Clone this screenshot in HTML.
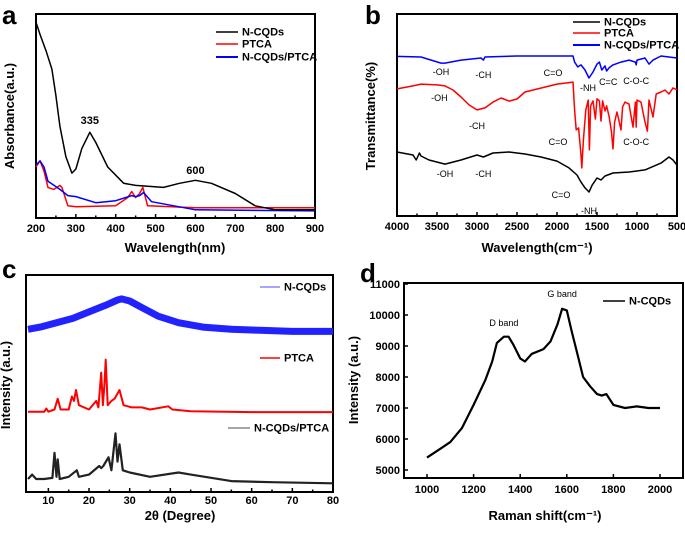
<!DOCTYPE html>
<html><head><meta charset="utf-8"><style>
body{margin:0;background:#fff;width:685px;height:532px;overflow:hidden}
svg{font-family:"Liberation Sans",Arial,sans-serif}
.t{font-size:11px;font-weight:bold}
.lab{font-size:13px;font-weight:bold}
.an{font-size:9px}
</style></head><body>
<svg id="fig" width="685" height="532">
<g id="pa"></g>
<g id="pb"></g>
<g id="pc"></g>
<g id="pd"></g>
</svg>
<script>
// Panel a data (wavelength nm, absorbance a.u.)
const aX_cqd=[200,210,225,240,250,260,275,290,300,315,335,350,380,420,450,520,560,600,640,700,750,800,900];
const aY_cqd=[96,90,82,73,60,45,30,22,24,34,42,37,25,17,16,15,17,18.5,17,12,6,4,4];
const aX_ptca=[200,210,220,230,245,260,265,280,300,400,430,440,450,460,468,480,600,900];
const aY_ptca=[25,28,23,15,14,16,15,6,5.5,6,10,13,10,12,15,6,5,5];
const aX_mix=[200,210,220,230,260,280,300,350,400,440,450,460,470,490,600,900];
const aY_mix=[26,28,25,18,14,11,10.5,7.5,8.5,11,10.5,11,12.5,8,4,3.5];
const aTicks=[200,300,400,500,600,700,800,900];
// Panel b data (wavenumber cm-1, transmittance %)
const bX_blue=[4000,3700,3450,3400,3200,2950,2920,2900,2500,1800,1780,1740,1700,1650,1600,1550,1500,1470,1440,1400,1380,1350,1300,1200,1100,1020,1010,1000,900,850,800,700,600,500];
const bY_blue=[79,78.7,75.7,75.7,77.2,78.2,77.2,78.7,79.2,79.2,76.2,73.8,74.8,72.3,68.3,71.3,75.2,76.2,72.3,74.3,71.8,73.3,74.8,76.2,77.2,76.2,74.8,77.2,78.2,75.2,77.2,79.2,78.7,78.2];
const bX_red=[4000,3800,3700,3500,3400,3300,3200,3100,3000,2900,2800,2700,2600,2500,2400,2000,1800,1780,1760,1730,1700,1690,1670,1640,1610,1595,1580,1550,1520,1500,1470,1450,1430,1400,1380,1350,1320,1300,1280,1250,1200,1180,1150,1100,1050,1020,1010,1000,950,900,870,850,800,760,700,650,600,550,500];
const bY_red=[62.9,64.4,65.3,64.9,64.4,62.4,58.9,55,52.5,53.5,56.4,58.4,56.9,57.9,61.4,65.3,66.3,52.5,42.6,43.6,30.2,23.8,37.6,52.5,57.4,32.7,54.5,57,48,58,57,47,57,52,54.5,49.5,42,33.2,46.5,51.5,42.6,54,56.4,55.4,44,56.4,44,57.4,56.4,46.5,42,57.4,49,60.4,61.4,62.4,60.4,63.4,62.4];
const bX_black=[4000,3800,3760,3720,3700,3600,3400,3200,3000,2920,2800,2600,2400,2200,2000,1850,1750,1700,1650,1600,1560,1500,1450,1400,1300,1100,900,700,600,550,500];
const bY_black=[31.7,30.2,27.7,31.2,29.7,27.7,25.7,27.7,30.2,29.2,31.2,31.7,30.7,29.2,27.2,23.8,20.3,16.8,13.9,11.9,15.3,18.8,17.8,19.8,21.3,21.8,22.8,26.2,29.2,27.7,25.2];
const bTicks=[4000,3500,3000,2500,2000,1500,1000,500];
// Panel c data (2theta degree, intensity a.u.)
const cX_blue=[5,8,12,16,20,24,27,28,30,33,37,42,48,55,62,70,80];
const cY_blue=[75,76,78,80,83,86,88.5,89,88,85,81,78,76,75,74.5,74,74];
const cX_red=[5,9,9.5,10,11.5,12.3,13,15,15.8,16.3,16.8,17.5,20,21.8,22.3,23,23.4,23.8,24.1,24.6,25.5,26.3,27.5,28.5,30.5,33,35,39.5,40.5,45,60,80];
const cY_red=[37,37,38.5,37,38,43,38,38,44,42,47,40,38,42,39,55,40,50,61,40,42,43,47,40,39,39,38,39.5,38,37.2,36.8,36.8];
const cX_black=[5,6,7,9,11,11.5,12,12.3,12.8,15,17,17.5,20,22.5,23,23.5,24.8,25.5,26.5,27,27.5,28.3,30,35,42,45,55,65,80];
const cY_black=[6,8,6,6,6.5,18,7,15,6,7,10,7,8,12,11,12,16,10,27,14,22,10,9,7,9,8,5,4.5,4];
const cTicks=[10,20,30,40,50,60,70,80];
// Panel d data (Raman shift cm-1, intensity)
const dX=[1000,1030,1060,1100,1150,1200,1250,1280,1300,1330,1350,1370,1400,1420,1450,1500,1530,1560,1580,1600,1620,1650,1670,1700,1730,1750,1770,1800,1850,1900,1950,2000];
const dY=[5400,5550,5700,5900,6350,7100,7900,8500,9100,9300,9300,9050,8600,8500,8750,8900,9150,9700,10200,10150,9500,8600,8000,7700,7450,7400,7450,7100,7000,7050,7000,7000];
const dXTicks=[1000,1200,1400,1600,1800,2000];
const dYTicks=[5000,6000,7000,8000,9000,10000,11000];

const NS='http://www.w3.org/2000/svg';
function mk(p,tag,at,txt){const e=document.createElementNS(NS,tag);for(const k in at)e.setAttribute(k,at[k]);if(txt!==undefined)e.textContent=txt;p.appendChild(e);return e;}
function frame(g,l,t,r,b){const e=mk(g,'rect',{x:l,y:t,width:r-l,height:b-t,fill:'none',stroke:'#000','stroke-width':2});

}
function line(g,xs,ys,sx,sy,col,w,name){const pts=xs.map((x,i)=>sx(x).toFixed(1)+','+sy(ys[i]).toFixed(1)).join(' ');
const e=mk(g,'polyline',{points:pts,fill:'none',stroke:col,'stroke-width':w,'stroke-linejoin':'round'});

}
function txt(g,x,y,s,cls,anchor,name){const e=mk(g,'text',{x:x,y:y,class:cls,'text-anchor':anchor||'middle'},s);

return e;}
function legend(g,x1,x2,y,col,label,w){const l=mk(g,'line',{x1:x1,y1:y,x2:x2,y2:y,stroke:col,'stroke-width':w||1.5});


txt(g,x2+4,y+3.5,label,'t','start','legend-label');}
function panelLetter(g,x,y,s){const e=mk(g,'text',{x:x,y:y,'font-size':26,'font-weight':'bold'},s);

}
function ylab(g,x,y,s){const e=mk(g,'text',{x:0,y:0,class:'lab','text-anchor':'middle',transform:`translate(${x},${y}) rotate(-90)`},s);

}
function xtick(g,x,b,len){const e=mk(g,'line',{x1:x,y1:b,x2:x,y2:b-len,stroke:'#000','stroke-width':1.5});

}

// ---- Panel a ----
(function(){const g=document.getElementById('pa');const L=36,T=14,R=315,B=218;
const sx=v=>L+(v-200)/700*(R-L), sy=v=>B-v/100*(B-T);
panelLetter(g,2,24,'a');frame(g,L,T,R,B);
aTicks.forEach(v=>{xtick(g,sx(v),B,4);txt(g,sx(v),232,v,'t','middle','x-tick-label');});
for(let v=250;v<900;v+=100)xtick(g,sx(v),B,2.5);
line(g,aX_ptca,aY_ptca,sx,sy,'#f00',1.5,'series-ptca');
line(g,aX_mix,aY_mix,sx,sy,'#00f',1.5,'series-ncqds-ptca');
line(g,aX_cqd,aY_cqd,sx,sy,'#000',1.5,'series-ncqds');
txt(g,sx(335),124,'335','t','middle','peak-label-335');txt(g,sx(600),174,'600','t','middle','peak-label-600');
legend(g,216,238,32,'#000','N-CQDs');legend(g,216,238,44,'#f00','PTCA');legend(g,216,238,57,'#00f','N-CQDs/PTCA',2);
txt(g,175,252,'Wavelength(nm)','lab','middle','x-axis-title');ylab(g,14,116,'Absorbance(a.u.)');})();

// ---- Panel b ----
(function(){const g=document.getElementById('pb');const L=397,T=14,R=677,B=216;
const sx=v=>L+(4000-v)/3500*(R-L), sy=v=>B-v/100*(B-T);
panelLetter(g,365,24,'b');frame(g,L,T,R,B);
bTicks.forEach(v=>{xtick(g,sx(v),B,4);txt(g,sx(v),230,v,'t','middle','x-tick-label');});
for(let v=3750;v>500;v-=500)xtick(g,sx(v),B,2.5);
line(g,bX_blue,bY_blue,sx,sy,'#00f',1.5,'series-ncqds-ptca');
line(g,bX_red,bY_red,sx,sy,'#f00',1.5,'series-ptca');
line(g,bX_black,bY_black,sx,sy,'#000',1.5,'series-ncqds');
const an=[[3450,75,'-OH'],[2920,78,'-CH'],[553,76,'C=O',1],[588,91,'-NH',1],[1360,85,'C=C'],[1010,84,'C-O-C'],
[3470,101,'-OH'],[3000,129,'-CH'],[558,145,'C=O',1],[1010,145,'C-O-C'],[3400,177,'-OH'],[2920,177,'-CH'],[561,198,'C=O',1],[1600,214,'-NH']];
an.forEach(a=>{const x=a[3]?a[0]:sx(a[0]);txt(g,x,a[1],a[2],'an','middle','peak-annotation');});
legend(g,573,600,22,'#000','N-CQDs');legend(g,573,600,33,'#f00','PTCA');legend(g,573,600,45,'#00f','N-CQDs/PTCA',2);
txt(g,537,252,'Wavelength(cm\u207B\u00B9)','lab','middle','x-axis-title');ylab(g,375,116,'Transmittance(%)');})();

// ---- Panel c ----
(function(){const g=document.getElementById('pc');const L=26,T=275,R=333,B=492;
const sx=v=>L+(v-4.5)/75.5*(R-L), sy=v=>B-v/100*(B-T);
panelLetter(g,2,278,'c');frame(g,L,T,R,B);
cTicks.forEach(v=>{xtick(g,sx(v),B,4);txt(g,sx(v),504,v,'t','middle','x-tick-label');});
for(let v=15;v<80;v+=10)xtick(g,sx(v),B,2.5);
line(g,cX_blue,cY_blue,sx,sy,'#22f',7,'series-ncqds');
line(g,cX_red,cY_red,sx,sy,'#f00',2,'series-ptca');
line(g,cX_black,cY_black,sx,sy,'#222',2.2,'series-ncqds-ptca');
legend(g,260,280,287,'#88f','N-CQDs');legend(g,260,280,358,'#f00','PTCA');legend(g,228,250,428,'#888','N-CQDs/PTCA');
txt(g,180,520,'2θ (Degree)','lab','middle','x-axis-title');ylab(g,10,385,'Intensity (a.u.)');})();

// ---- Panel d ----
(function(){const g=document.getElementById('pd');const L=404,T=283,R=683,B=478;
const sx=v=>427+(v-1000)/1000*233, sy=v=>470-(v-5000)/6000*(470-284);
panelLetter(g,360,282,'d');frame(g,L,T,R,B);
dXTicks.forEach(v=>{xtick(g,sx(v),B,4);txt(g,sx(v),493,v,'t','middle','x-tick-label');});
dYTicks.forEach(v=>{const e=mk(g,'line',{x1:L,y1:sy(v),x2:L+4,y2:sy(v),stroke:'#000','stroke-width':1.5});


txt(g,L-4,sy(v)+4,v,'t','end','y-tick-label');});
line(g,dX,dY,sx,sy,'#000',2.2,'series-ncqds');
txt(g,sx(1330),326,'D band','an','middle','d-band-label');txt(g,sx(1580),297,'G band','an','middle','g-band-label');
legend(g,603,625,301,'#000','N-CQDs');
txt(g,545,520,'Raman shift(cm\u207B\u00B9)','lab','middle','x-axis-title');ylab(g,358,380,'Intensity (a.u.)');})();
</script>
</body></html>
